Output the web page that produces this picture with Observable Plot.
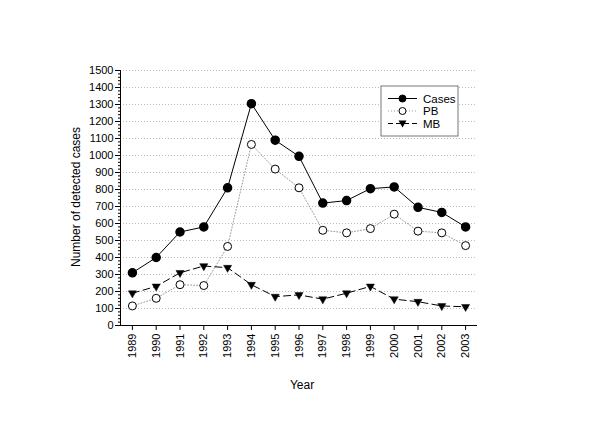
<!DOCTYPE html>
<html>
<head>
<meta charset="utf-8">
<script src="https://cdn.jsdelivr.net/npm/d3@7"></script>
<script src="https://cdn.jsdelivr.net/npm/@observablehq/plot@0.6"></script>
<style>
  html, body { margin: 0; padding: 0; background: #fff; }
  #wrap { position: relative; width: 600px; height: 423px; font-family: "Liberation Sans", Arial, sans-serif; }
  #wrap svg { position: absolute; left: 0; top: 0; }
</style>
</head>
<body>
<div id="wrap"></div>
<script>
const years = [1989,1990,1991,1992,1993,1994,1995,1996,1997,1998,1999,2000,2001,2002,2003];
const cases = [310,400,550,580,810,1305,1090,995,720,735,805,815,695,665,580];
const pb    = [115,160,240,235,465,1065,920,810,560,545,570,655,555,545,470];
const mb    = [190,230,310,350,340,240,170,180,155,190,230,155,140,115,110];
const seriesNames = ["Cases","PB","MB"];
const xDomain = [1988.5, 2003.5];
const yTicks = d3.range(0, 1501, 100);
const yMinor = d3.range(0, 1501, 20);
const yLabel = "Number of detected cases";
const xLabel = "Year";

const rows = (vals) => years.map((y, i) => ({year: y, value: vals[i]}));
const dCases = rows(cases), dPB = rows(pb), dMB = rows(mb);

const W = 600, H = 423, mL = 120, mR = 123, mT = 70, mB = 98;

const chart = Plot.plot({
  width: W, height: H,
  marginLeft: mL, marginRight: mR, marginTop: mT, marginBottom: mB,
  style: {fontFamily: '"Liberation Sans", Arial, sans-serif', fontSize: "11px", color: "#000", background: "transparent"},
  x: {domain: xDomain},
  y: {domain: [0, 1500]},
  marks: [
    Plot.gridY(yTicks.filter(d => d > 0), {stroke: "#bbb", strokeOpacity: 1, strokeDasharray: "1,2"}),
    Plot.axisY({ticks: yMinor, tickSize: 2, tickFormat: () => "", label: null, stroke: "#000"}),
    Plot.axisY({ticks: yTicks, tickSize: 5, tickPadding: 2, tickFormat: d => String(d), label: null, fontSize: 11}),
    Plot.axisX({ticks: years, tickSize: 5, tickPadding: 3, tickRotate: -90, tickFormat: d => String(d), label: null, fontSize: 11}),
    Plot.ruleY([0], {stroke: "#000"}),
    Plot.ruleX([xDomain[0]], {stroke: "#000"}),
    Plot.line(dPB, {x: "year", y: "value", stroke: "#999", strokeWidth: 1, strokeDasharray: "1,2"}),
    Plot.line(dMB, {x: "year", y: "value", stroke: "#000", strokeWidth: 1, strokeDasharray: "7,4"}),
    Plot.line(dCases, {x: "year", y: "value", stroke: "#000", strokeWidth: 1}),
    Plot.dot(dPB, {x: "year", y: "value", r: 4, fill: "#fff", stroke: "#000", strokeWidth: 1}),
    Plot.dot(dMB, {x: "year", y: "value", symbol: "triangle", rotate: 180, r: 3, fill: "#000", stroke: "#000", strokeWidth: 0.5}),
    Plot.dot(dCases, {x: "year", y: "value", r: 4, fill: "#000", stroke: "#000"})
  ]
});
document.getElementById("wrap").appendChild(chart);

// overlay: axis titles and legend
const ov = d3.select("#wrap").append("svg")
  .attr("width", W).attr("height", H)
  .style("pointer-events", "none")
  .attr("font-family", '"Liberation Sans", Arial, sans-serif');

ov.append("text")
  .attr("transform", "translate(80,197) rotate(-90)")
  .attr("text-anchor", "middle")
  .attr("font-size", 12)
  .text(yLabel);
ov.append("text")
  .attr("x", 302).attr("y", 389)
  .attr("text-anchor", "middle")
  .attr("font-size", 12)
  .text(xLabel);

const lg = ov.append("g").attr("transform", "translate(381,86)");
lg.append("rect").attr("width", 77).attr("height", 50).attr("fill", "#fff").attr("stroke", "#777");
const styles = [
  {dash: null, stroke: "#000", sym: "circle", fill: "#000"},
  {dash: "1,2", stroke: "#999", sym: "circle", fill: "#fff"},
  {dash: "5,3", stroke: "#000", sym: "tri", fill: "#000"}
];
seriesNames.forEach((name, i) => {
  const s = styles[i];
  const yy = 12.5 + i * 12.5;
  const ln = lg.append("line").attr("x1", 7).attr("x2", 36).attr("y1", yy).attr("y2", yy)
    .attr("stroke", s.stroke);
  if (s.dash) ln.attr("stroke-dasharray", s.dash);
  if (s.sym === "circle") {
    lg.append("circle").attr("cx", 21.5).attr("cy", yy).attr("r", 3.5)
      .attr("fill", s.fill).attr("stroke", "#000");
  } else {
    lg.append("path").attr("d", `M${21.5-4},${yy-3} L${21.5+4},${yy-3} L21.5,${yy+4} Z`).attr("fill", "#000");
  }
  lg.append("text").attr("x", 42).attr("y", yy + 4).attr("font-size", 11.5).text(name);
});
</script>
</body>
</html>
